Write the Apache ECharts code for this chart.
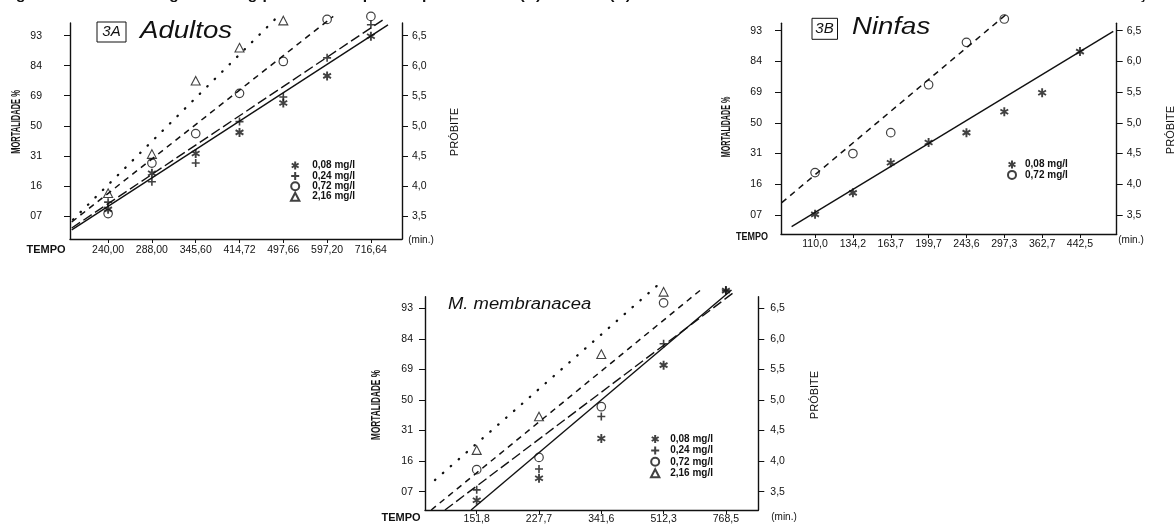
<!DOCTYPE html>
<html><head><meta charset="utf-8">
<script src="https://cdn.jsdelivr.net/npm/echarts@6/dist/echarts.min.js"></script>
<style>html,body{margin:0;padding:0;background:#fff}#c{width:1176px;height:530px}</style>
</head><body><div id="c"></div><script>
// ---------- data ----------
const ticksAdultos = ['240,00','288,00','345,60','414,72','497,66','597,20','716,64'];
const ticksNinfas = ['110,0','134,2','163,7','199,7','243,6','297,3','362,7','442,5'];
const ticksMembranacea = ['151,8','227,7','341,6','512,3','768,5'];
const probitTicks = [3.5, 4.0, 4.5, 5.0, 5.5, 6.0, 6.5];
const mortalityLabels = ['07','16','31','50','69','84','93'];
const probitLabels = ['3,5','4,0','4,5','5,0','5,5','6,0','6,5'];
const concentrations = ['0,08 mg/l','0,24 mg/l','0,72 mg/l','2,16 mg/l'];

// observed probits, one value per time tick
const adultos008 = [3.61, 4.21, 4.54, 4.89, 5.38, 5.83, 6.49];
const adultos024 = [3.73, 4.07, 4.38, 5.07, 5.48, 6.13, 6.68];
const adultos072 = [3.54, 4.38, 4.87, 5.54, 6.07, 6.77, 6.82];
const adultos216 = [3.88, 4.53, 5.75, 6.30, 6.75];
const ninfas008 = [3.51, 3.86, 4.35, 4.68, 4.84, 5.18, 5.49, 6.16];
const ninfas072 = [4.19, 4.50, 4.84, 5.62, 6.31, 6.69];
const membranacea008 = [3.36, 3.72, 4.37, 5.57, 6.79];
const membranacea024 = [3.53, 3.87, 4.73, 5.92, 6.79];
const membranacea072 = [3.86, 4.06, 4.89, 6.59];
const membranacea216 = [4.18, 4.73, 5.75, 6.77];

// regression lines: [time index, probit] end points
const adultosFit008 = [[-0.83, 3.27], [6.39, 6.68]];
const adultosFit024 = [[-0.83, 3.30], [6.29, 6.77]];
const adultosFit072 = [[-0.83, 3.40], [5.14, 6.82]];
const adultosFit216 = [[-0.80, 3.44], [3.85, 6.80]];
const ninfasFit008 = [[-0.62, 3.31], [7.88, 6.49]];
const ninfasFit072 = [[-0.88, 3.70], [5.10, 6.79]];
const membranaceaFit008 = [[-0.09, 3.20], [4.09, 6.80]];
const membranaceaFit024 = [[-0.51, 3.20], [4.14, 6.77]];
const membranaceaFit072 = [[-0.73, 3.20], [3.63, 6.83]];
const membranaceaFit216 = [[-0.67, 3.69], [2.94, 6.91]];

const captionText = 'Figura 3 - Linhas de regressão log-probit do tempo letal para adultos (A) e ninfas (B) de M. membranacea tratados com Actara® em diferentes concentrações';

// ---------- styling ----------
const INK = '#111111';
const FONT = '"Liberation Sans", Arial, Helvetica, sans-serif';
const SYMBOLS = [
  'path://M5 0L5 10M0.67 2.5L9.33 7.5M0.67 7.5L9.33 2.5',
  'path://M5 0L5 10M0 5L10 5',
  'circle',
  'path://M5 0.6L9.6 9.4L0.4 9.4Z'
];
const SYMBOL_SIZE = [9, 8, 8.5, 9];
const BORDER_W = [1.9, 1.6, 1.2, 1.1];
const LINE_TYPES = [
  {type: 'solid', width: 1.4},
  {type: [10, 4], width: 1.4},
  {type: [6, 5], width: 1.5},
  {type: [0.5, 10], width: 2.3, cap: 'round'}
];

const panels = [
  {grid: {left: 70, top: 23, width: 332, height: 216}, x: [-0.87, 6.71], y: [3.117, 6.71],
   ticks: ticksAdultos, lm: 28, rm: 10, xm: 6,
   obs: [adultos008, adultos024, adultos072, adultos216],
   fits: [adultosFit008, adultosFit024, adultosFit072, adultosFit216],
   legend: {left: 290, top: 160.5, itemWidth: 24, itemGap: 0.4}},
  {grid: {left: 781, top: 23.3, width: 335.7, height: 210.7}, x: [-0.9, 7.97], y: [3.19, 6.62],
   ticks: ticksNinfas, lm: 19, rm: 10, xm: 5,
   obs: [ninfas008, null, ninfas072, null],
   fits: [ninfasFit008, null, ninfasFit072, null],
   legend: {left: 1007, top: 159.5, itemWidth: 16, itemGap: 0.4}},
  {grid: {left: 425, top: 296.7, width: 333.3, height: 213.3}, x: [-0.83, 4.52], y: [3.2, 6.69],
   ticks: ticksMembranacea, lm: 12, rm: 12, xm: 4,
   obs: [membranacea008, membranacea024, membranacea072, membranacea216],
   fits: [membranaceaFit008, membranaceaFit024, membranaceaFit072, membranaceaFit216],
   legend: {left: 650, top: 434, itemWidth: 20, itemGap: 1.4}}
];

const grids = [], xAxes = [], yAxes = [], series = [], legends = [];
const probIdx = v => Math.round((v - 3.5) * 2);

panels.forEach((p, gi) => {
  grids.push(Object.assign({outerBoundsMode: 'none', containLabel: false}, p.grid));
  const tickIdx = p.ticks.map((t, i) => i);
  xAxes.push({
    type: 'value', gridIndex: gi, min: p.x[0], max: p.x[1],
    axisLine: {show: true, onZero: false, lineStyle: {color: INK, width: 1.4}},
    axisTick: {show: true, customValues: tickIdx, length: 4, lineStyle: {color: INK, width: 1}},
    axisLabel: {customValues: tickIdx, margin: p.xm, color: INK, fontSize: 10.5, fontFamily: FONT,
      formatter: v => p.ticks[Math.round(v)] || ''},
    splitLine: {show: false}
  });
  const yBase = {
    type: 'value', gridIndex: gi, min: p.y[0], max: p.y[1],
    axisLine: {show: true, onZero: false, lineStyle: {color: INK, width: 1.4}},
    axisTick: {show: true, customValues: probitTicks, length: 6, lineStyle: {color: INK, width: 1}},
    splitLine: {show: false}
  };
  yAxes.push(Object.assign({}, yBase, {position: 'left',
    axisLabel: {customValues: probitTicks, margin: p.lm, color: INK, fontSize: 10.5, fontFamily: FONT,
      formatter: v => mortalityLabels[probIdx(v)]}}));
  yAxes.push(Object.assign({}, yBase, {position: 'right',
    axisLabel: {customValues: probitTicks, margin: p.rm, color: INK, fontSize: 10.5, fontFamily: FONT,
      formatter: v => probitLabels[probIdx(v)]}}));

  const legendNames = [];
  p.obs.forEach((vals, k) => {
    if (!vals) return;
    legendNames.push(concentrations[k]);
    series.push({
      type: 'scatter', name: concentrations[k], xAxisIndex: gi, yAxisIndex: gi * 2,
      symbol: SYMBOLS[k], symbolSize: SYMBOL_SIZE[k], clip: false, symbolKeepAspect: true,
      itemStyle: {color: 'rgba(0,0,0,0)', borderColor: INK, borderWidth: BORDER_W[k]},
      data: vals.map((v, i) => [i, v]), z: 3
    });
  });
  p.fits.forEach((pts, k) => {
    if (!pts) return;
    series.push({
      type: 'line', name: 'ajuste ' + gi + '-' + k, xAxisIndex: gi, yAxisIndex: gi * 2,
      showSymbol: false, clip: false, silent: true,
      lineStyle: Object.assign({color: INK}, LINE_TYPES[k]),
      data: pts, z: 2
    });
  });
  legends.push({
    data: legendNames, orient: 'vertical', left: p.legend.left, top: p.legend.top,
    itemWidth: p.legend.itemWidth, itemHeight: 8, itemGap: p.legend.itemGap,
    padding: 0, selectedMode: false, symbolKeepAspect: true,
    textStyle: {color: INK, fontSize: 10, fontWeight: 'bold', fontFamily: FONT, lineHeight: 9}
  });
});

function txt(x, y, text, o) {
  o = o || {};
  return {type: 'text', x: x, y: y, rotation: o.rot || 0, scaleX: o.sx || 1, scaleY: o.sy || 1, z: 10,
    style: {text: text, fill: INK, fontFamily: FONT, fontSize: o.fs || 11,
      fontWeight: o.fw || 'normal', fontStyle: o.it ? 'italic' : 'normal',
      align: o.align || 'center', verticalAlign: o.va || 'middle'}};
}
const R90 = Math.PI / 2;
const graphics = [
  txt(2, -5, captionText, {fs: 14, fw: 'bold', align: 'left', sx: 1.12}),
  // panel A
  {type: 'rect', shape: {x: 97, y: 22, width: 29, height: 20}, style: {fill: 'none', stroke: INK, lineWidth: 1}},
  txt(111.5, 32, '3A', {fs: 15, it: true}),
  txt(140, 31, 'Adultos', {fs: 24, it: true, align: 'left', sx: 1.15}),
  txt(17, 122, 'MORTALIDADE %', {rot: R90, fs: 12.5, fw: 'bold', sx: 0.6}),
  txt(455, 132, 'PRÓBITE', {rot: R90, fs: 11}),
  txt(46, 250, 'TEMPO', {fs: 11, fw: 'bold'}),
  txt(421, 240, '(min.)', {fs: 10}),
  // panel B
  {type: 'rect', shape: {x: 812, y: 18.3, width: 25.5, height: 21}, style: {fill: 'none', stroke: INK, lineWidth: 1}},
  txt(824.5, 29, '3B', {fs: 15, it: true}),
  txt(852, 28, 'Ninfas', {fs: 23, it: true, align: 'left', sx: 1.2}),
  txt(727, 127, 'MORTALIDADE %', {rot: R90, fs: 12.5, fw: 'bold', sx: 0.57}),
  txt(1171, 130, 'PRÓBITE', {rot: R90, fs: 11}),
  txt(752, 237, 'TEMPO', {fs: 10, fw: 'bold', sx: 0.9}),
  txt(1131, 240, '(min.)', {fs: 10}),
  // panel C
  txt(448, 305, 'M. membranacea', {fs: 16, it: true, align: 'left', sx: 1.15}),
  txt(377, 405, 'MORTALIDADE %', {rot: R90, fs: 12.5, fw: 'bold', sx: 0.66}),
  txt(815, 395, 'PRÓBITE', {rot: R90, fs: 11}),
  txt(401, 518, 'TEMPO', {fs: 11, fw: 'bold'}),
  txt(784, 517, '(min.)', {fs: 10})
];

const chart = echarts.init(document.getElementById('c'), null, {renderer: 'canvas'});
chart.setOption({
  backgroundColor: '#ffffff',
  animation: false,
  grid: grids, xAxis: xAxes, yAxis: yAxes, series: series, legend: legends,
  graphic: graphics
});
</script></body></html>
